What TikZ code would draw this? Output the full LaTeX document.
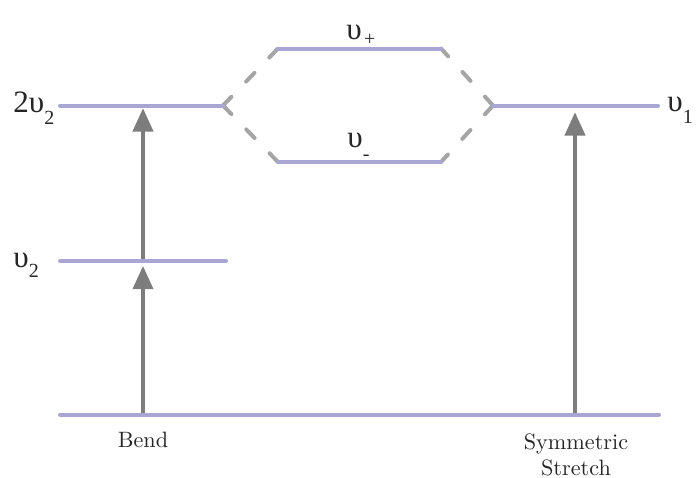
\documentclass[tikz,border=0pt]{standalone}
\usepackage{fontspec}
\usepackage{tikz}
\usetikzlibrary{arrows.meta}
\newfontfamily\statefont{Liberation Serif}
\definecolor{levelpurple}{RGB}{169,166,212}
\definecolor{mixgray}{RGB}{165,165,165}
\definecolor{arrowgray}{RGB}{125,125,125}
\newcommand{\lvlsub}[2][5.8pt]{\raisebox{-#1}{\fontsize{9}{9}\selectfont #2}}
\tikzset{
  level/.style={draw=levelpurple, line width=1.8pt, line cap=round},
  mixing/.style={draw=mixgray, line width=1.8pt, line cap=round, dash pattern=on 5.4pt off 9.6pt},
  arrow/.style={-{Triangle[length=10.5pt,width=9pt]}, line width=1.8pt, draw=arrowgray, fill=arrowgray},
  state/.style={inner sep=0pt, anchor=base west, font=\statefont\fontsize{14}{14}\selectfont, text=black!85},
  mode/.style={inner sep=0pt, anchor=north, align=center, text=black!85}
}
\begin{document}
\begin{tikzpicture}[x=0.45pt, y=-0.45pt]
\useasboundingbox (0,0) rectangle (696,477);
% level end points
\coordinate (g-w) at (60,414.5); \coordinate (g-e) at (659,414.5);
\coordinate (v2-w) at (60,261); \coordinate (v2-e) at (226,261);
\coordinate (2v2-w) at (60,105.5); \coordinate (2v2-e) at (223,105.5);
\coordinate (v1-w) at (493,105.5); \coordinate (v1-e) at (658,105.5);
\coordinate (vp-w) at (278,48.5); \coordinate (vp-e) at (441,48.5);
\coordinate (vm-w) at (278,162); \coordinate (vm-e) at (441,162);
% Fermi resonance
\draw[mixing] (2v2-e) -- (vp-w);
\draw[mixing] (2v2-e) -- (vm-w);
\draw[mixing] (v1-w) -- (vp-e);
\draw[mixing] (v1-w) -- (vm-e);
% excitations
\coordinate (b0) at (143,414.5); \coordinate (b1) at (143,261); \coordinate (b2) at (143,105.5);
\coordinate (s0) at (575,414.5); \coordinate (s1) at (575,105.5);
\draw[arrow, shorten >=2.2pt] (b0) -- (b1);
\draw[arrow, shorten >=1.2pt] (b1) -- (b2);
\draw[arrow, shorten >=3pt] (s0) -- (s1);
% levels
\draw[level] (g-w) -- (g-e);
\draw[level] (v2-w) -- (v2-e);
\draw[level] (2v2-w) -- (2v2-e);
\draw[level] (v1-w) -- (v1-e);
\draw[level] (vp-w) -- (vp-e);
\draw[level] (vm-w) -- (vm-e);
% labels
\node[state] (l2v2) at (13,112) {2υ\lvlsub{2}};
\node[state] (lv2) at (13,267) {υ\lvlsub[4.8pt]{2}};
\node[state] (lv1) at (667,111) {υ\lvlsub{1}};
\node[state] (lvp) at (346,39) {υ\kern1pt\lvlsub[3pt]{+}};
\node[state] (lvm) at (347,147) {υ\lvlsub[6pt]{-}};
\node[mode] (bend) at (143,432) {Bend};
\node[mode] (stretch) at (576,433) {Symmetric\\Stretch};
\end{tikzpicture}
\end{document}
